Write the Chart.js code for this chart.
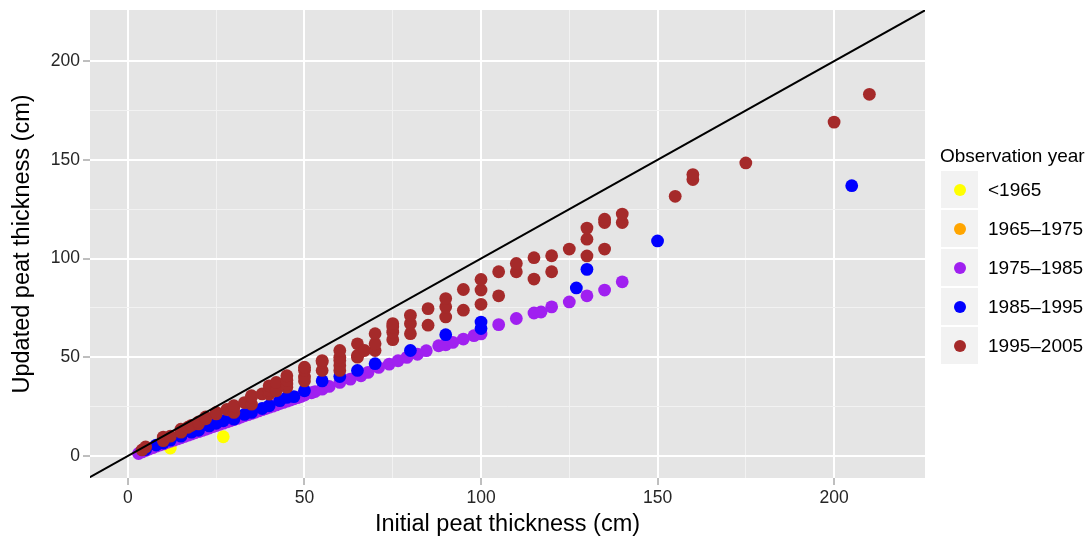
<!DOCTYPE html>
<html>
<head>
<meta charset="utf-8">
<title>Peat thickness</title>
<script src="https://cdn.jsdelivr.net/npm/chart.js@4.4.0/dist/chart.umd.min.js"></script>
<style>
  body { margin: 0; background: #fff; font-family: "Liberation Sans", Arial, sans-serif; }
  #wrap { position: relative; width: 1092px; height: 539px; }
  #legend { position: absolute; left: 0; top: 0; }
  .lg-title { position: absolute; left: 940px; top: 146px; font-size: 19px; line-height: 19px; white-space: nowrap; color: #000; }
  .lg-key { position: absolute; left: 941px; width: 37px; height: 37px; background: #f2f2f2; }
  .lg-dot { position: absolute; left: 12.5px; top: 12.5px; width: 12px; height: 12px; border-radius: 50%; }
  .lg-label { position: absolute; left: 988px; height: 37px; line-height: 37px; font-size: 19px; white-space: nowrap; color: #000; }
</style>
</head>
<body>
<div id="wrap">
  <canvas id="peat_chart" width="1092" height="539"></canvas>
  <div id="legend"></div>
</div>
<script>
// legend groups (ggplot order) and their colours
const yearGroups = ['<1965', '1965\u20131975', '1975\u20131985', '1985\u20131995', '1995\u20132005'];
const groupColors = ['#FFFF00', '#FFA500', '#A020F0', '#0000FF', '#A52A2A'];

// <1965
const pre1965X = [12, 27];
const pre1965Y = [4, 9.7];

// 1965-1975 (hidden under the others)
const y1965X = [10];
const y1965Y = [6.1];

// 1975-1985
const y1975X = [3, 4, 5, 6, 7, 8, 9, 10, 11, 12, 13, 14, 15, 16, 17, 18, 19, 20, 21, 22, 23, 24, 25, 26, 27, 28, 29, 30,
  31, 32, 33, 34, 35, 36, 37, 38, 39, 40, 41, 42, 43, 44, 45, 46, 47, 48, 49, 50, 52, 53, 55, 57, 60, 63, 66, 68, 71, 74,
  76.5, 79, 82, 84.5, 88, 90, 92, 95, 98, 100, 105, 110, 115, 117, 120, 125, 130, 135, 140];
const y1975Y = [1.2, 2.0, 2.8, 3.5, 4.2, 4.9, 5.5, 6.1, 6.8, 7.4, 8.0, 8.6, 9.2, 9.9, 10.5, 11.1, 11.7, 12.3, 12.9, 13.5, 14.1, 14.8, 15.4, 16.0, 16.6, 17.2, 17.8, 18.4,
  19.0, 19.7, 20.3, 20.9, 21.5, 22.1, 22.8, 23.4, 24.0, 24.6, 25.2, 25.8, 26.5, 27.1, 27.7, 28.3, 28.9, 29.5, 30.1, 30.8, 32.0, 32.6, 33.8, 35.2, 37.2, 38.9, 40.6, 42.3, 44.8, 46.5,
  48.2, 49.9, 51.5, 53.3, 55.8, 56.3, 57.5, 59.2, 60.9, 61.8, 66.5, 69.6, 72.4, 72.9, 75.5, 78.0, 81.1, 84.0, 88.2];

// 1985-1995
const y1985X = [5, 8, 10, 12, 15, 18, 20, 23, 25, 27, 30, 33, 35, 38, 40, 43, 45, 47, 50, 55, 60, 65, 70, 80, 90, 100, 100, 127, 130, 150, 205];
const y1985Y = [3.2, 5.5, 6.5, 8, 10, 12, 13, 15.2, 16.5, 17.8, 18.6, 21, 22, 24, 25.4, 28, 29.6, 30, 33, 38, 40.2, 43.3, 46.7, 53.4, 61.4, 64.5, 67.8, 85.1, 94.5, 108.9, 136.9];

// 1995-2005
const y1995X = [4, 5, 10, 10, 12, 15, 15, 17, 18, 20, 20, 22, 22, 25, 25, 28, 30, 30, 30, 33, 35, 35, 35, 38, 40, 40, 40, 42, 42,
  45, 45, 45, 45, 50, 50, 50, 50, 55, 55, 55, 60, 60, 60, 60, 60, 65, 65, 65, 67, 70, 70, 70, 75, 75, 75, 75, 80, 80, 80,
  85, 85, 90, 90, 90, 95, 95, 100, 100, 100, 105, 105, 110, 110, 115, 115, 120, 120, 125, 130, 130, 130, 135, 135, 135,
  140, 140, 155, 160, 160, 175, 200, 210];
const y1995Y = [3, 4.5, 7.7, 9.5, 10, 12, 13.5, 14.5, 15.5, 16.2, 17.2, 18.8, 19.7, 21.3, 22, 23.5, 22, 24.6, 25.4, 27, 26.2, 29.8, 30.5, 31.4, 31.3, 33.2, 35.5, 33, 37.2,
  34.8, 36.4, 38.3, 40.6, 38, 40, 43.4, 44.9, 43.3, 47.6, 48.3, 43.3, 45.8, 48.3, 50, 53.4, 50, 50.9, 56.8, 53.4, 53.4, 56.8, 61.9, 58.9, 62.7, 65.3, 67, 61.9, 67, 71.2,
  66.2, 74.6, 70.4, 75.5, 79.7, 73.8, 84.3, 76.8, 84, 89.4, 81.1, 93.3, 93.3, 97.5, 89.6, 100.4, 93.3, 101.4, 104.8, 101.3, 109.8, 115.4, 104.8, 118.2, 119.9,
  118.2, 122.5, 131.5, 140, 142.5, 148.4, 169.1, 183.2];

// axes
const xRange = [-10.75, 225.75];
const yRange = [-11.2, 225.9];
const tickValues = [0, 25, 50, 75, 100, 125, 150, 175, 200];
const majorTicks = [0, 50, 100, 150, 200];
// 1:1 reference line
const refLine = [-15, 230];

const FONT = '"Liberation Sans", Arial, sans-serif';

let toPoints = (xs, ys) => xs.map((x, i) => ({ x: x, y: ys[i] }));

let pointSet = (label, xs, ys, color) => ({
    label: label,
    data: toPoints(xs, ys),
    backgroundColor: color,
    borderWidth: 0,
    pointRadius: 6.4,
    pointHoverRadius: 6.4,
    showLine: false
});

// first dataset is drawn last (on top) in Chart.js
const datasets = [
    {
        label: 'y = x',
        data: toPoints(refLine, refLine),
        showLine: true,
        borderColor: '#000',
        borderWidth: 2,
        pointRadius: 0,
        fill: false
    },
    pointSet(yearGroups[4], y1995X, y1995Y, groupColors[4]),
    pointSet(yearGroups[3], y1985X, y1985Y, groupColors[3]),
    pointSet(yearGroups[2], y1975X, y1975Y, groupColors[2]),
    pointSet(yearGroups[1], y1965X, y1965Y, groupColors[1]),
    pointSet(yearGroups[0], pre1965X, pre1965Y, groupColors[0])
];

let isMajor = (ctx) => ctx.tick && majorTicks.includes(ctx.tick.value);

let axis = (range, titleText, titlePad) => ({
    type: 'linear',
    min: range[0],
    max: range[1],
    afterBuildTicks: (a) => { a.ticks = tickValues.map(v => ({ value: v })); },
    border: { display: false },
    grid: {
        color: (c) => isMajor(c) ? '#ffffff' : '#f2f2f2',
        lineWidth: (c) => isMajor(c) ? 2 : 1,
        tickColor: (c) => isMajor(c) ? '#7f7f7f' : 'rgba(0,0,0,0)',
        tickLength: 7,
        tickWidth: 1
    },
    ticks: {
        autoSkip: false,
        maxRotation: 0,
        padding: 3,
        color: '#262626',
        font: { family: FONT, size: 17.5 },
        callback: (v) => majorTicks.includes(v) ? String(v) : ''
    },
    title: {
        display: true,
        text: titleText,
        color: '#000',
        font: { family: FONT, size: 23.5 },
        padding: titlePad
    }
});

const xAxis = axis(xRange, 'Initial peat thickness (cm)', { top: 0, bottom: 0 });
xAxis.afterFit = (s) => { s.height = 61; s.paddingLeft = 0; s.paddingRight = 0; };
const yAxis = axis(yRange, 'Updated peat thickness (cm)', { top: 8, bottom: 0 });
yAxis.afterFit = (s) => { s.width = 90; s.paddingTop = 0; s.paddingBottom = 0; };

// panel background
const panelBg = {
    id: 'panelBg',
    beforeDraw: (chart) => {
        const a = chart.chartArea;
        chart.ctx.save();
        chart.ctx.fillStyle = '#e5e5e5';
        chart.ctx.fillRect(a.left, a.top, a.right - a.left, a.bottom - a.top);
        chart.ctx.restore();
    }
};

const config = {
    type: 'scatter',
    data: { datasets: datasets },
    options: {
        responsive: false,
        animation: false,
        layout: { padding: { left: 0, right: 167, top: 10, bottom: 0 } },
        plugins: {
            legend: { display: false },
            tooltip: { enabled: false }
        },
        scales: { x: xAxis, y: yAxis }
    },
    plugins: [panelBg]
};

const graph = new Chart(document.getElementById('peat_chart'), config);

// legend, ggplot style
const legend = document.getElementById('legend');
const title = document.createElement('div');
title.className = 'lg-title';
title.textContent = 'Observation year';
legend.appendChild(title);
yearGroups.forEach((g, i) => {
    const key = document.createElement('div');
    key.className = 'lg-key';
    key.style.top = (171 + i * 39) + 'px';
    const dot = document.createElement('div');
    dot.className = 'lg-dot';
    dot.style.background = groupColors[i];
    key.appendChild(dot);
    legend.appendChild(key);
    const lab = document.createElement('div');
    lab.className = 'lg-label';
    lab.style.top = (171 + i * 39) + 'px';
    lab.textContent = g;
    legend.appendChild(lab);
});
</script>
</body>
</html>
